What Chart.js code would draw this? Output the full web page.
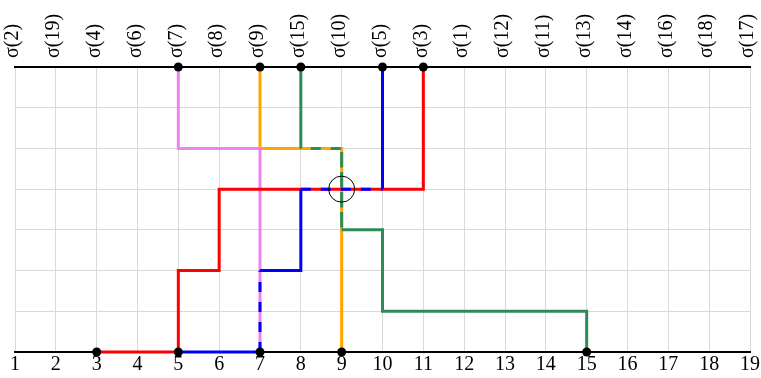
<!DOCTYPE html>
<html>
<head>
<meta charset="utf-8">
<script src="https://cdn.jsdelivr.net/npm/chart.js@4/dist/chart.umd.min.js"></script>
<style>
  html, body { margin: 0; padding: 0; background: #ffffff; }
  #wrap { width: 761px; height: 378px; position: relative; }
</style>
</head>
<body>
<div id="wrap"><canvas id="c" width="761" height="378"></canvas></div>
<script>
// ---- data ----
const xTicks = [1,2,3,4,5,6,7,8,9,10,11,12,13,14,15,16,17,18,19];
const topLabels = ['σ(2)','σ(19)','σ(4)','σ(6)','σ(7)','σ(8)','σ(9)','σ(15)','σ(10)','σ(5)',
                   'σ(3)','σ(1)','σ(12)','σ(11)','σ(13)','σ(14)','σ(16)','σ(18)','σ(17)'];
const yMin = 0, yMax = 7;

const redX    = [3, 5, 5, 6, 6, 11, 11];
const redY    = [0, 0, 2, 2, 4, 4, 7];
const blueX   = [5, 7, 7, 8, 8, 10, 10];
const blueY   = [0, 0, 2, 2, 4, 4, 7];
const blueDashedSegs = [1, 4];
const pinkX   = [5, 5, 7, 7];
const pinkY   = [7, 5, 5, 0];
const orangeX = [7, 7, 9, 9];
const orangeY = [7, 5, 5, 0];
const greenX  = [8, 8, 9, 9, 10, 10, 15, 15];
const greenY  = [7, 5, 5, 3, 3, 1, 1, 0];
const greenDashedSegs = [1, 2];

const topDotsX    = [5, 7, 8, 10, 11];
const bottomDotsX = [3, 5, 7, 9, 15];
const markerX = [9], markerY = [4];

// ---- helpers ----
const pts = (xs, ys) => xs.map((x, i) => ({x: x, y: ys[i]}));

function stepLine(xs, ys, color, dashedSegs, dashOffset) {
  const ds = {
    data: pts(xs, ys),
    showLine: true,
    clip: false,
    borderColor: color,
    borderWidth: 3,
    pointRadius: 0,
    pointHoverRadius: 0,
    fill: false,
    tension: 0,
    borderCapStyle: 'butt',
    borderJoinStyle: 'miter'
  };
  if (dashedSegs) {
    ds.segment = {
      borderDash: ctx => dashedSegs.includes(ctx.p0DataIndex) ? [10, 10] : [],
      borderDashOffset: ctx => dashedSegs.includes(ctx.p0DataIndex) ? (dashOffset || 0) : 0
    };
  }
  return ds;
}

const dots = pts(topDotsX, topDotsX.map(() => yMax)).concat(pts(bottomDotsX, bottomDotsX.map(() => yMin)));

const serif = '"Liberation Serif", "DejaVu Serif", serif';

function fixX(h) {
  return s => { s.height = h; s.paddingLeft = 0; s.paddingRight = 0; };
}

new Chart(document.getElementById('c'), {
  type: 'scatter',
  data: {
    datasets: [
      { data: pts(markerX, markerY), clip: false, pointRadius: 13, pointHoverRadius: 13, pointStyle: 'circle',
        backgroundColor: 'rgba(0,0,0,0)', borderColor: '#000000', borderWidth: 1, showLine: false },
      { data: dots, clip: false, pointRadius: 4.5, pointHoverRadius: 4.5, backgroundColor: '#000000',
        borderColor: '#000000', borderWidth: 0, showLine: false },
      stepLine(blueX, blueY, '#0000ff', blueDashedSegs, 0),
      stepLine(greenX, greenY, '#2e8b57', greenDashedSegs, 10),
      stepLine(redX, redY, '#ff0000'),
      stepLine(pinkX, pinkY, '#ee82ee'),
      stepLine(orangeX, orangeY, '#ffa500')
    ]
  },
  options: {
    responsive: false,
    animation: false,
    events: [],
    layout: { autoPadding: false, padding: { left: 15, right: 11, top: 0, bottom: 0 } },
    plugins: { legend: { display: false }, tooltip: { enabled: false } },
    scales: {
      x: {
        type: 'linear', position: 'bottom', min: 1, max: 19,
        afterBuildTicks: s => { s.ticks = xTicks.map(v => ({value: v})); },
        afterFit: fixX(26),
        grid: { color: '#d9d9d9', lineWidth: 1, drawTicks: false },
        border: { display: true, color: '#000000', width: 2 },
        ticks: { color: '#000000', font: { family: serif, size: 20 }, padding: 1,
                 maxRotation: 0, autoSkip: false }
      },
      x2: {
        type: 'linear', position: 'top', min: 1, max: 19,
        afterBuildTicks: s => { s.ticks = xTicks.map(v => ({value: v})); },
        afterFit: fixX(67),
        grid: { display: false, drawTicks: false },
        border: { display: true, color: '#000000', width: 2 },
        ticks: { color: '#000000', font: { family: serif, size: 20 }, padding: 9,
                 labelOffset: 22,
                 minRotation: 90, maxRotation: 90, autoSkip: false,
                 callback: v => topLabels[xTicks.indexOf(v)] }
      },
      y: {
        type: 'linear', min: yMin, max: yMax, display: true,
        afterFit: s => { s.width = 0; s.paddingTop = 0; s.paddingBottom = 0; },
        grid: { color: '#d9d9d9', lineWidth: 1, drawTicks: false },
        border: { display: false },
        ticks: { display: false, stepSize: 1 }
      }
    }
  }
});
</script>
</body>
</html>
